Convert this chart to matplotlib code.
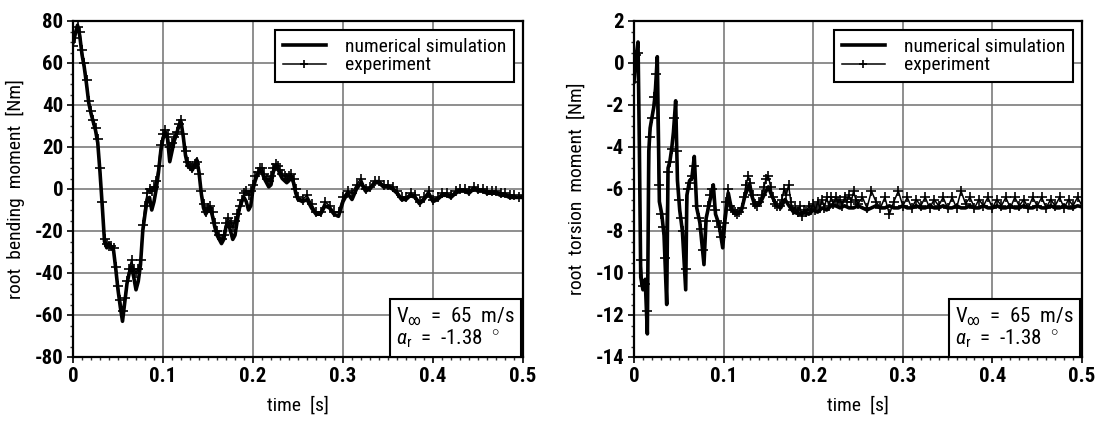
import numpy as np
import matplotlib
matplotlib.use("Agg")
import matplotlib.pyplot as plt
from matplotlib.ticker import MultipleLocator, FixedLocator

plt.rcParams['font.family'] = ['Roboto Condensed', 'Roboto', 'DejaVu Sans']
plt.rcParams['axes.unicode_minus'] = False
plt.rcParams['mathtext.fontset'] = 'custom'
plt.rcParams['mathtext.rm'] = 'Roboto Condensed'
plt.rcParams['mathtext.it'] = 'Roboto Condensed:italic'

# ---------------- data ----------------
# root bending moment, experiment (0..0.25 s every 2.5 ms, then 0.255..0.5 s every 5 ms)
bend_exp_early = [68, 72, 77, 75, 66, 60, 52, 42, 37, 33,
                  29, 24, 10, -6, -24, -26, -27, -27, -28, -37,
                  -46, -53, -58, -52, -44, -38, -34, -38, -40, -38,
                  -34, -17, -8, -2, 0, -1, 1, 4, 11, 21,
                  26, 28, 26, 20, 22, 25, 27, 31, 33, 26,
                  18, 13, 11, 10, 12, 13, 7, -1, -7, -11,
                  -9, -8, -11, -16, -20, -22, -24, -22, -16, -14,
                  -16, -18, -15, -12, -8, -5, -2, -1, -3, -1,
                  2, 6, 8, 10, 10, 7, 5, 4, 6, 10,
                  12, 11, 9, 7, 6, 5, 6, 7, 5, 0,
                  -4]
bend_exp_late = [-5, -3, -7, -11, -11, -6, -8, -11, -11, -4,
                 -1, -2, 2, 5, 0, 1, 4, 4, 2, 2,
                 1, -1, -4, -4, -2, -3, -6, -4, -1, -5,
                 -4, -2, -2, -3, -1, 0, 0, -1, 1, 0,
                 0, -1, -1, -1, -2, -2, -3, -3, -4, -3]

# root bending moment, numerical simulation (same time grid)
bend_sim_early = [70, 74, 78, 73, 64, 58, 50, 41, 36, 32,
                  28, 22, 8, -8, -25, -28, -26, -28, -29, -38,
                  -48, -56, -63, -54, -45, -40, -37, -42, -48, -44,
                  -36, -20, -12, -5, -4, -10, -6, 0, 8, 18,
                  24, 27, 24, 13, 18, 23, 26, 30, 32, 25,
                  16, 11, 10, 9, 11, 14, 8, -2, -9, -12,
                  -10, -9, -13, -18, -22, -24, -26, -24, -18, -16,
                  -20, -24, -22, -15, -9, -6, -4, -6, -10, -8,
                  0, 4, 7, 9, 8, 5, 3, 1, 2, 8,
                  11, 10, 7, 5, 4, 3, 4, 6, 3, -2,
                  -5]
bend_sim_late = [-6, -5, -9, -12, -12, -8, -9, -12, -13, -6,
                 -2, -5, 0, 3, -1, 0, 3, 3, 1, 1,
                 0, -2, -5, -5, -3, -4, -7, -5, -2, -6,
                 -5, -3, -3, -4, -2, -1, -1, -2, 0, -1,
                 -1, -2, -2, -2, -3, -3, -4, -4, -4, -4]

# root torsion moment, experiment (same grid as bending)
tors_exp_early = [-0.9, 0.4, 0.5, -9.4, -10.6, -10.5, -11.8, -3.5, -2.6, -1.6,
                  -0.5, -5.8, -7.2, -7.8, -9.3, -5.2, -4.7, -4.1, -2.6, -4.2,
                  -6.5, -7.4, -8.0, -9.8, -6.0, -5.7, -5.4, -4.9, -6.8, -7.4,
                  -7.9, -8.9, -7.5, -6.8, -6.3, -6.0, -7.0, -7.5, -7.8, -8.3,
                  -7.6, -6.6, -6.0, -6.8, -7.0, -7.1, -7.2, -7.1, -6.9, -6.4,
                  -5.8, -5.4, -5.7, -6.3, -6.7, -6.8, -6.6, -6.3, -5.9, -5.5,
                  -5.4, -5.9, -6.4, -6.7, -6.8, -6.8, -6.5, -6.0, -6.3, -5.8,
                  -6.6, -7.0, -6.9, -7.1, -6.8, -7.3, -7.0, -7.1, -6.8, -7.0,
                  -6.7, -7.0, -6.6, -6.9, -6.5, -6.9, -6.4, -6.8, -6.4, -6.7,
                  -6.4, -6.6, -6.5, -6.8, -6.4, -6.6, -6.3, -6.6, -6.1, -6.5,
                  -6.7]
tors_exp_late = [-6.4, -6.9, -6.1, -6.6, -6.9, -6.4, -7.2, -6.6, -6.1, -6.8,
                 -6.4, -6.9, -6.5, -6.8, -6.4, -6.9, -6.5, -6.8, -6.4, -6.9,
                 -6.4, -6.9, -6.1, -6.7, -6.4, -6.9, -6.5, -6.8, -6.4, -6.9,
                 -6.5, -6.8, -6.4, -6.9, -6.4, -6.8, -6.5, -6.9, -6.4, -6.8,
                 -6.4, -6.9, -6.5, -6.8, -6.4, -6.9, -6.5, -6.8, -6.4, -6.8]

# root torsion moment, numerical simulation (knots up to 0.22 s, then every 5 ms)
tors_sim_t_early = [0.000, 0.002, 0.0045, 0.006, 0.0075, 0.010, 0.0125, 0.0149, 0.0165, 0.018,
                    0.020, 0.0225, 0.024, 0.026, 0.0283, 0.031, 0.0335, 0.0365, 0.038, 0.040,
                    0.042, 0.044, 0.0465, 0.0485, 0.051, 0.054, 0.0577, 0.059, 0.062, 0.0645,
                    0.0673, 0.070, 0.0735, 0.0781, 0.0805, 0.084, 0.0885, 0.091, 0.095, 0.099,
                    0.1015, 0.1053, 0.109, 0.1146, 0.120, 0.124, 0.1287, 0.1313, 0.135, 0.1406,
                    0.146, 0.150, 0.1536, 0.159, 0.1637, 0.1685, 0.173, 0.178, 0.185, 0.190,
                    0.195, 0.200, 0.205, 0.210, 0.215, 0.220]
tors_sim_early = [-0.9, 0.2, 1.0, -4.0, -10.2, -10.8, -10.3, -12.9, -4.2, -3.1,
                  -2.6, -2.0, -1.2, 0.3, -6.6, -7.2, -8.2, -11.5, -5.0, -4.7,
                  -4.1, -3.3, -1.8, -5.6, -7.0, -8.0, -10.8, -6.3, -5.6, -5.5,
                  -4.45, -6.9, -7.6, -9.6, -7.4, -6.7, -5.8, -7.2, -7.7, -8.8,
                  -7.5, -6.2, -7.0, -7.2, -7.0, -6.3, -5.8, -6.3, -6.8, -6.7,
                  -6.2, -5.9, -6.3, -6.8, -6.9, -6.5, -6.8, -7.1, -7.2, -7.1,
                  -7.2, -7.0, -7.1, -6.9, -7.0, -6.8]
tors_sim_late = [-6.8, -6.9, -6.8, -6.9, -6.9, -6.8, -6.9, -7.0, -6.9, -6.8,
                 -6.9, -6.9, -6.8, -6.9, -6.9, -6.8, -6.9, -6.9, -6.8, -6.9,
                 -6.9, -6.8, -6.9, -6.9, -6.8, -6.9, -6.9, -6.8, -6.9, -6.9,
                 -6.8, -6.9, -6.9, -6.8, -6.9, -6.9, -6.8, -6.9, -6.9, -6.8,
                 -6.9, -6.9, -6.8, -6.9, -6.9, -6.8, -6.9, -6.9, -6.8, -6.9,
                 -6.9, -6.8, -6.9, -6.9, -6.8, -6.85]

x_ticks = [0, 0.1, 0.2, 0.3, 0.4, 0.5]
x_tick_labels = ["0", "0.1", "0.2", "0.3", "0.4", "0.5"]
bend_yticks = [-80, -60, -40, -20, 0, 20, 40, 60, 80]
tors_yticks = [-14, -12, -10, -8, -6, -4, -2, 0, 2]
legend_labels = ["numerical simulation", "experiment"]
x_label = "time  [s]"
bend_ylabel = "root  bending  moment  [Nm]"
tors_ylabel = "root  torsion  moment  [Nm]"
cond_text = "$\\mathrm{V}_{\\infty}$  =  65  m/s\n$\\alpha_{\\mathrm{r}}$  =  -1.38  $^{\\circ}$"

# ---------------- time grids ----------------
def grid(early, late, dt1=0.0025, t2=0.255, dt2=0.005):
    return np.concatenate([np.arange(len(early)) * dt1, t2 + np.arange(len(late)) * dt2])

t_bend_exp = grid(bend_exp_early, bend_exp_late)
v_bend_exp = np.array(bend_exp_early + bend_exp_late, float)
t_bend_sim = grid(bend_sim_early, bend_sim_late)
v_bend_sim = np.array(bend_sim_early + bend_sim_late, float)
t_tors_exp = grid(tors_exp_early, tors_exp_late)
v_tors_exp = np.array(tors_exp_early + tors_exp_late, float)
t_tors_sim = np.concatenate([np.array(tors_sim_t_early), 0.225 + np.arange(len(tors_sim_late)) * 0.005])
v_tors_sim = np.array(tors_sim_early + tors_sim_late, float)

# ---------------- figure ----------------
fig = plt.figure(figsize=(10.99, 4.22), dpi=100)
ax1 = fig.add_axes([73 / 1099, 1 - 357 / 422, 450 / 1099, 336 / 422])
ax2 = fig.add_axes([634 / 1099, 1 - 357 / 422, 448 / 1099, 336 / 422])

tick_font = dict(size=15, weight='bold')

def style(ax, yticks, yminor, ylabel):
    ax.set_xlim(0, 0.5)
    ax.set_ylim(yticks[0], yticks[-1])
    ax.xaxis.set_major_locator(FixedLocator(x_ticks))
    ax.set_xticklabels(x_tick_labels, **tick_font)
    ax.xaxis.set_minor_locator(MultipleLocator(0.01))
    ax.yaxis.set_major_locator(FixedLocator(yticks))
    ax.set_yticklabels([str(v) for v in yticks], **tick_font)
    ax.yaxis.set_minor_locator(MultipleLocator(yminor))
    ax.tick_params(which='major', direction='out', length=4.5, width=1.2, color='black', pad=2.5)
    ax.tick_params(which='minor', direction='out', length=2.5, width=1.0, color='#333333')
    ax.grid(True, which='major', color='#707070', linewidth=1.1)
    ax.set_axisbelow(True)
    for s in ax.spines.values():
        s.set_linewidth(1.6)
        s.set_color('black')
    ax.set_xlabel(x_label, fontsize=14, labelpad=8)
    ax.set_ylabel(ylabel, fontsize=14, labelpad=7)

def curves(ax, ts, vs, te, ve):
    ax.plot(ts, vs, color='black', linewidth=2.6, label=legend_labels[0], zorder=3)
    ax.plot(te, ve, color='black', linewidth=1.1, marker='+', markersize=7,
            markeredgewidth=1.2, label=legend_labels[1], zorder=4)
    leg = ax.legend(loc='upper right', fontsize=14, frameon=True, fancybox=False,
                    edgecolor='black', framealpha=1, handlelength=2.2,
                    borderaxespad=0.45, borderpad=0.4, labelspacing=0.05, handletextpad=1.0,
                    markerscale=0.8)
    leg.get_frame().set_linewidth(1.5)
    ax.text(0.982, 0.02, cond_text, transform=ax.transAxes, ha='right', va='bottom',
            multialignment='left', fontsize=15, linespacing=1.0, zorder=6,
            bbox=dict(boxstyle='square,pad=0.3', facecolor='white', edgecolor='black', linewidth=1.5))

curves(ax1, t_bend_sim, v_bend_sim, t_bend_exp, v_bend_exp)
style(ax1, bend_yticks, 5, bend_ylabel)
curves(ax2, t_tors_sim, v_tors_sim, t_tors_exp, v_tors_exp)
style(ax2, tors_yticks, 0.5, tors_ylabel)

fig.savefig("out.png", dpi=100)
